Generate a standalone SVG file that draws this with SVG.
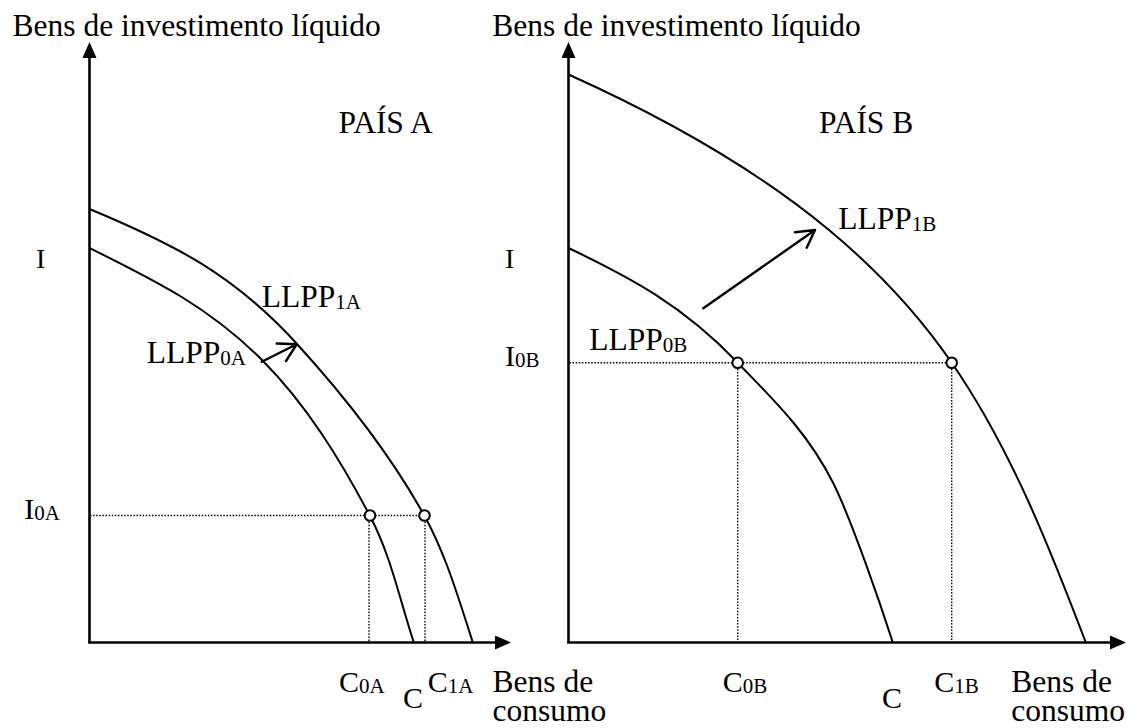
<svg xmlns="http://www.w3.org/2000/svg" width="1127" height="728" viewBox="0 0 1127 728">
<style>
  .bg{fill:#fff}
  .axis{fill:none;stroke:#000;stroke-width:2.6;stroke-linecap:butt}
  .curve{fill:none;stroke:#000;stroke-width:2}
  .guide{fill:none;stroke:#000;stroke-width:1.4;stroke-dasharray:1.5 1.6}
  .pt{fill:#fff;stroke:#000;stroke-width:2}
  .shift{fill:none;stroke:#000;stroke-width:2.4;stroke-linejoin:round;stroke-linecap:round}
  text{font-family:"Liberation Serif","Times New Roman",serif;fill:#000;font-size:31.5px}
  .sm{font-size:30px}
  .ii{font-size:28px}
  .sub{font-size:21px}
</style>
<defs>
  <marker id="axisArrow" markerUnits="userSpaceOnUse" viewBox="0 0 16 14" markerWidth="16" markerHeight="14" refX="0" refY="7" orient="auto">
    <path d="M0,0 L16,7 L0,14 Z" fill="#000"/>
  </marker>
</defs>
<rect class="bg" x="0" y="0" width="1127" height="728"/>

<g id="panel-A">
  <g id="guides-A">
    <path class="guide" d="M90,515.5 H424.5"/>
    <path class="guide" d="M369,515.5 V642"/>
    <path class="guide" d="M425,515.5 V642"/>
  </g>
  <g id="curve-LLPP0A">
    <path class="curve" d="M89.5,248 C157,281.5 209,307 262,360 C306.5,404.5 340.6,460.2 370,516 C391,555.8 399.8,600.3 414,643"/>
  </g>
  <g id="curve-LLPP1A">
    <path class="curve" d="M89.5,209 C173,243.8 233.1,273.7 297,344 C344.8,396.5 389.5,452.9 424,515 C445.9,554.3 458.8,599.3 473,643"/>
  </g>
  <g id="axes-A">
    <path class="axis" d="M89.5,643 V58" marker-end="url(#axisArrow)"/>
    <path class="axis" d="M88.2,642.5 H495" marker-end="url(#axisArrow)"/>
  </g>
  <g id="points-A">
    <circle class="pt" cx="370" cy="515.5" r="5.3"/>
    <circle class="pt" cx="424.5" cy="515.5" r="5.3"/>
  </g>
  <g id="labels-A">
    <text x="12.5" y="36">Bens de investimento líquido</text>
    <text x="338.5" y="132.5">PAÍS A</text>
    <text class="ii" x="36" y="267.5">I</text>
    <text x="261.7" y="306.7">LLPP<tspan class="sub" dy="2">1A</tspan></text>
    <text x="146.7" y="363.3">LLPP<tspan class="sub" dy="2">0A</tspan></text>
    <text class="sm" x="24.3" y="519.3">I<tspan class="sub" dy="1">0A</tspan></text>
    <text class="sm" x="339" y="691.7">C<tspan class="sub" dy="1">0A</tspan></text>
    <text class="sm" x="403" y="708">C</text>
    <text class="sm" x="427.7" y="691.7">C<tspan class="sub" dy="1">1A</tspan></text>
    <text x="492.5" y="691.7">Bens de</text>
    <text x="492.5" y="721">consumo</text>
  </g>
</g>

<g id="panel-B">
  <g id="guides-B">
    <path class="guide" d="M569.5,362.7 H951.7"/>
    <path class="guide" d="M737.7,362.7 V642"/>
    <path class="guide" d="M951.7,362.7 V642"/>
  </g>
  <g id="curve-LLPP0B">
    <path class="curve" d="M568.5,248 C629.8,277.4 682.5,304.8 737.7,362.7 C768.7,395.3 806.5,429.7 833.3,483.3 C851.2,519.1 880.4,604 893,643"/>
  </g>
  <g id="curve-LLPP1B">
    <path class="curve" d="M568.5,74.5 C660.6,115.9 751.3,165.5 829,230 C875.1,268.3 917.6,313.3 951.7,362.7 C1010.2,447.5 1049,545.9 1086,643"/>
  </g>
  <g id="axes-B">
    <path class="axis" d="M568.5,643 V58" marker-end="url(#axisArrow)"/>
    <path class="axis" d="M567.2,642.5 H1110" marker-end="url(#axisArrow)"/>
  </g>
  <g id="points-B">
    <circle class="pt" cx="737.7" cy="362.7" r="5.3"/>
    <circle class="pt" cx="951.7" cy="362.7" r="5.3"/>
  </g>
  <g id="labels-B">
    <text x="492.3" y="36">Bens de investimento líquido</text>
    <text x="819" y="132.5">PAÍS B</text>
    <text class="ii" x="505" y="267.5">I</text>
    <text x="838.3" y="229">LLPP<tspan class="sub" dy="2">1B</tspan></text>
    <text x="589.3" y="350">LLPP<tspan class="sub" dy="2">0B</tspan></text>
    <text class="sm" x="505" y="366">I<tspan class="sub" dy="1">0B</tspan></text>
    <text class="sm" x="722.7" y="691.7">C<tspan class="sub" dy="1">0B</tspan></text>
    <text class="sm" x="882" y="708.3">C</text>
    <text class="sm" x="934.3" y="691.7">C<tspan class="sub" dy="1">1B</tspan></text>
    <text x="1011.3" y="691.7">Bens de</text>
    <text x="1011.3" y="721">consumo</text>
  </g>
</g>

<g id="connectors">
  <path class="shift" d="M261.7,361.7 L296.7,344.3 M276.7,343.5 L296.7,344.3 L286,361"/>
  <path class="shift" d="M703.3,308.3 L815,230 M795,232.3 L815,230 L806.7,247.7"/>
</g>
</svg>
